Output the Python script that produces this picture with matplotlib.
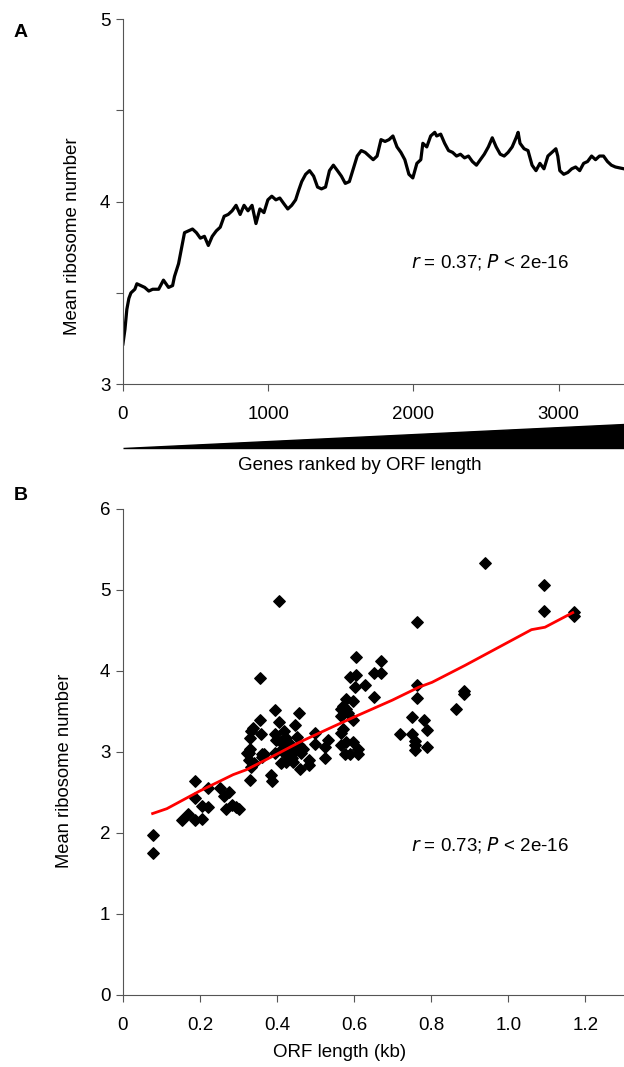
import numpy as np
import matplotlib
matplotlib.use("Agg")
import matplotlib.pyplot as plt
from matplotlib.patches import Polygon
import matplotlib.transforms as mtransforms

plt.rcParams['font.family'] = ['Liberation Sans', 'DejaVu Sans']

# Panel A: running mean of ribosome number along genes ranked by ORF length
genes = [0, 14, 27, 41, 55, 82, 96, 123, 150, 178, 205, 246, 279, 314, 342, 355, 383,
         405, 424, 451, 479, 506, 533, 561, 588, 615, 643, 670, 697, 725, 752, 779, 807,
         834, 861, 889, 916, 943, 971, 998, 1025, 1053, 1080, 1107, 1135, 1162, 1189,
         1209, 1231, 1258, 1285, 1313, 1340, 1367, 1395, 1422, 1449, 1477, 1504, 1531,
         1559, 1586, 1613, 1641, 1668, 1695, 1723, 1750, 1777, 1805, 1832, 1859, 1887,
         1914, 1941, 1969, 1996, 2024, 2051, 2065, 2092, 2119, 2147, 2160, 2188, 2215,
         2242, 2270, 2297, 2324, 2352, 2379, 2406, 2434, 2461, 2488, 2516, 2543, 2570,
         2598, 2625, 2652, 2680, 2707, 2721, 2734, 2762, 2789, 2817, 2844, 2871, 2899,
         2926, 2953, 2981, 2994, 3008, 3035, 3063, 3090, 3117, 3145, 3172, 3199, 3227,
         3254, 3281, 3309, 3336, 3363, 3391, 3450]
mean_ribo = [3.22, 3.30, 3.41, 3.47, 3.50, 3.52, 3.55, 3.54, 3.53, 3.51, 3.52, 3.52,
             3.57, 3.53, 3.54, 3.59, 3.66, 3.75, 3.83, 3.84, 3.85, 3.83, 3.80, 3.81,
             3.76, 3.81, 3.84, 3.86, 3.92, 3.93, 3.95, 3.98, 3.93, 3.98, 3.95, 3.98,
             3.88, 3.96, 3.94, 4.01, 4.03, 4.01, 4.02, 3.99, 3.96, 3.98, 4.01, 4.06,
             4.11, 4.15, 4.17, 4.14, 4.08, 4.07, 4.08, 4.17, 4.20, 4.17, 4.14, 4.10,
             4.11, 4.18, 4.25, 4.28, 4.27, 4.25, 4.23, 4.25, 4.34, 4.33, 4.34, 4.36,
             4.30, 4.27, 4.23, 4.15, 4.13, 4.21, 4.23, 4.32, 4.30, 4.36, 4.38, 4.36,
             4.37, 4.32, 4.28, 4.27, 4.25, 4.26, 4.24, 4.25, 4.22, 4.20, 4.23, 4.26,
             4.30, 4.35, 4.30, 4.26, 4.25, 4.27, 4.30, 4.35, 4.38, 4.32, 4.29, 4.28,
             4.20, 4.17, 4.21, 4.18, 4.25, 4.27, 4.29, 4.25, 4.17, 4.15, 4.16, 4.18,
             4.19, 4.17, 4.21, 4.22, 4.25, 4.23, 4.25, 4.25, 4.22, 4.20, 4.19, 4.18]

# Panel B: ORF length (kb) vs mean ribosome number
orf_kb = [0.077, 0.077, 0.153, 0.170, 0.187, 0.188, 0.187, 0.206, 0.206, 0.222, 0.222,
          0.253, 0.262, 0.275, 0.267, 0.284, 0.294, 0.300,
          0.322, 0.327, 0.330, 0.333, 0.337, 0.330, 0.333, 0.339, 0.330, 0.327,
          0.355, 0.355, 0.358, 0.362, 0.366, 0.362, 0.384, 0.386,
          0.394, 0.394, 0.398, 0.394, 0.405, 0.406, 0.410, 0.410, 0.419, 0.424,
          0.428, 0.432, 0.436, 0.441, 0.441, 0.447, 0.451, 0.456, 0.458, 0.460,
          0.462, 0.467, 0.482, 0.482, 0.419, 0.424, 0.413, 0.449, 0.415, 0.438,
          0.499, 0.499, 0.525, 0.525, 0.532,
          0.565, 0.565, 0.570, 0.578, 0.580, 0.583, 0.565, 0.571, 0.565, 0.577,
          0.578, 0.589, 0.596, 0.596, 0.596, 0.589, 0.601, 0.604, 0.604, 0.611,
          0.611, 0.628, 0.651, 0.651, 0.669, 0.669,
          0.720, 0.749, 0.751, 0.757, 0.759, 0.759, 0.764, 0.764, 0.764, 0.781,
          0.790, 0.790, 0.864, 0.885, 0.885, 0.940, 1.093, 1.093, 1.169, 1.169]
ribo_b = [1.97, 1.75, 2.16, 2.24, 2.64, 2.43, 2.16, 2.17, 2.33, 2.55, 2.32,
          2.55, 2.46, 2.50, 2.30, 2.35, 2.32, 2.29,
          2.99, 2.90, 3.17, 3.26, 3.30, 3.04, 2.82, 2.86, 2.66, 2.99,
          3.91, 3.39, 3.22, 2.97, 2.97, 2.94, 2.72, 2.64,
          3.52, 3.22, 3.15, 2.99, 4.86, 3.37, 3.13, 2.86, 3.26, 3.17,
          3.04, 2.95, 3.08, 2.99, 2.88, 3.33, 3.19, 3.48, 3.08, 2.79,
          2.99, 3.04, 2.90, 2.84, 2.99, 2.88, 3.04, 3.02, 3.10, 2.93,
          3.24, 3.10, 3.06, 2.92, 3.15,
          3.53, 3.44, 3.57, 3.66, 3.53, 3.48, 3.24, 3.28, 3.08, 2.97,
          3.12, 2.97, 3.12, 3.39, 3.63, 3.92, 3.80, 3.95, 4.17, 3.04,
          2.97, 3.83, 3.97, 3.68, 4.12, 3.98,
          3.22, 3.43, 3.22, 3.14, 3.08, 3.03, 4.60, 3.83, 3.67, 3.39,
          3.27, 3.06, 3.53, 3.75, 3.71, 5.33, 5.06, 4.74, 4.73, 4.68]

# smoothed trend line (red)
trend_x = [0.077, 0.114, 0.200, 0.286, 0.320, 0.398, 0.458, 0.544, 0.604, 0.699,
           0.768, 0.802, 0.888, 0.974, 1.060, 1.095, 1.167]
trend_y = [2.24, 2.30, 2.52, 2.72, 2.78, 2.97, 3.12, 3.31, 3.44, 3.64,
           3.80, 3.86, 4.07, 4.29, 4.51, 4.54, 4.72]

fs = 13.5
fig = plt.figure(figsize=(6.24, 10.67), dpi=100)

# ---------- panel A ----------
axA = fig.add_axes([0.197, 0.640, 0.803, 0.342])
axA.plot(genes, mean_ribo, color='black', linewidth=2.3)
axA.set_xlim(0, 3450)
axA.set_ylim(3, 5)
axA.set_yticks([3, 3.5, 4, 4.5, 5])
axA.set_yticklabels(['3', '', '4', '', '5'])
axA.set_xticks([0, 1000, 2000, 3000])
for s in ['top', 'right']:
    axA.spines[s].set_visible(False)
for s in ['left', 'bottom']:
    axA.spines[s].set_color('#555555')
axA.tick_params(axis='y', direction='out', length=5, color='#555555', labelsize=fs, pad=4)
axA.tick_params(axis='x', direction='out', length=5, color='#555555', labelsize=fs, pad=11)
axA.set_ylabel('Mean ribosome number', fontsize=13.5)
axA.yaxis.set_label_coords(-0.084, 0.405)
axA.text(0.575, 0.334, r'$\it{r}$ = 0.37; $\it{P}$ < 2e-16', transform=axA.transAxes,
         fontsize=fs, va='center', ha='left')

# wedge showing increasing ORF length
trans = mtransforms.blended_transform_factory(axA.transData, axA.transAxes)
wedge = Polygon([[0, -0.176], [3450, -0.176], [3450, -0.108]], closed=True,
                facecolor='black', edgecolor='black', transform=trans, clip_on=False)
axA.add_patch(wedge)
axA.text(0.473, -0.222, 'Genes ranked by ORF length', transform=axA.transAxes,
         fontsize=fs, ha='center', va='center')
fig.text(0.022, 0.970, 'A', fontsize=14, fontweight='bold', va='center')

# ---------- panel B ----------
axB = fig.add_axes([0.197, 0.0675, 0.803, 0.4555])
axB.scatter(orf_kb, ribo_b, marker='D', s=34, color='black', zorder=3)
axB.plot(trend_x, trend_y, color='red', linewidth=2.0, zorder=4)
axB.set_xlim(0, 1.3)
axB.set_ylim(0, 6)
axB.set_xticks([0, 0.2, 0.4, 0.6, 0.8, 1.0, 1.2])
axB.set_xticklabels(['0', '0.2', '0.4', '0.6', '0.8', '1.0', '1.2'])
axB.set_yticks([0, 1, 2, 3, 4, 5, 6])
for s in ['top', 'right']:
    axB.spines[s].set_visible(False)
for s in ['left', 'bottom']:
    axB.spines[s].set_color('#555555')
axB.tick_params(axis='y', direction='out', length=5, color='#555555', labelsize=fs, pad=4)
axB.tick_params(axis='x', direction='out', length=5, color='#555555', labelsize=fs, pad=11)
axB.set_ylabel('Mean ribosome number', fontsize=13.2)
axB.yaxis.set_label_coords(-0.100, 0.461)
axB.set_xlabel('ORF length (kb)', fontsize=fs)
axB.xaxis.set_label_coords(0.433, -0.101)
axB.text(0.575, 0.309, r'$\it{r}$ = 0.73; $\it{P}$ < 2e-16', transform=axB.transAxes,
         fontsize=fs, va='center', ha='left')
fig.text(0.022, 0.536, 'B', fontsize=14, fontweight='bold', va='center')

fig.savefig('out.png', dpi=100)
